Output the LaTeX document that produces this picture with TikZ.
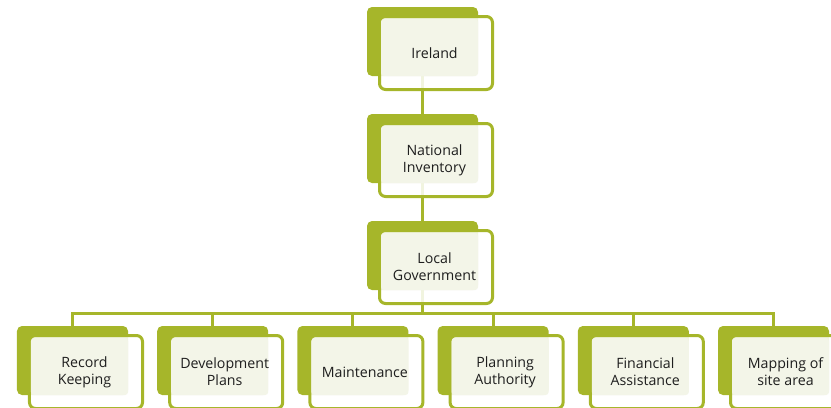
\documentclass[tikz,border=0pt]{standalone}
\usepackage{fontspec}
\setmainfont{Open Sans}
\pgfdeclarelayer{back}
\pgfdeclarelayer{conn}
\pgfsetlayers{back,conn,main}
\definecolor{olivegreen}{RGB}{166,182,42}
\definecolor{creamfill}{RGB}{243,245,232}
\definecolor{txtcol}{RGB}{30,30,30}
\tikzset{
  olivebox/.style={draw=none,fill=olivegreen,rounded corners=5bp,minimum width=111bp,minimum height=69bp,inner sep=0pt,outer sep=0pt},
  outbox/.style={draw=olivegreen,line width=3bp,fill=white,fill opacity=0.85,rounded corners=6bp,minimum width=113bp,minimum height=73bp,inner sep=0pt,outer sep=0pt},
  creambox/.style={draw=none,fill=creamfill,rounded corners=3bp,minimum width=97bp,minimum height=57bp,inner sep=0pt,outer sep=0pt},
  txt/.style={text=txtcol,align=center,inner sep=0pt,font=\fontsize{14.2bp}{17bp}\selectfont},
  conn/.style={draw=olivegreen,line width=3bp}
}
\newcommand\orgbox[4]{%
  \begin{pgfonlayer}{back}\node[olivebox] (#1b) at (#2+55.5,#3+34.5) {};\end{pgfonlayer}
  \node[outbox] (#1) at (#2+69,#3+46) {};
  \node[creambox] (#1c) at (#2+62.5,#3+40.5) {};
  \node[txt] (#1t) at ([xshift=-1.5bp]#1.center) {#4};
}
\begin{document}
\begin{tikzpicture}[x=1bp,y=-1bp]
\useasboundingbox (0,0) rectangle (831,407);
\clip (0,0) rectangle (831,407);
\orgbox{ir}{367}{7}{Ireland}
\orgbox{ni}{367}{114}{National\\Inventory}
\orgbox{lg}{367}{221}{Local\\Government}
\orgbox{ba}{17}{326}{Record\\Keeping}
\orgbox{bb}{157.2}{326}{Development\\Plans}
\orgbox{bc}{297.4}{326}{Maintenance}
\orgbox{bd}{437.6}{326}{Planning\\Authority}
\orgbox{be}{577.8}{326}{Financial\\Assistance}
\orgbox{bf}{718}{326}{Mapping of\\site area}
\coordinate (bar) at (0,313.5);
\begin{pgfonlayer}{conn}
\draw[conn] (irb.center) -- (nib.north);
\draw[conn] (nib.center) -- (lgb.north);
\draw[conn] (lgb.center) -- (lgb.center |- bar);
\draw[conn,line join=miter] (bab.north) -- (bab.north |- bar) -- (bfb.north |- bar) -- (bfb.north);
\draw[conn] (bbb.north) -- (bbb.north |- bar);
\draw[conn] (bcb.north) -- (bcb.north |- bar);
\draw[conn] (bdb.north) -- (bdb.north |- bar);
\draw[conn] (beb.north) -- (beb.north |- bar);
\end{pgfonlayer}
\end{tikzpicture}
\end{document}
